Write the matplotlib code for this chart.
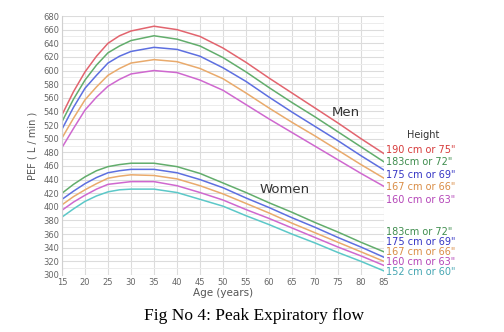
import matplotlib
matplotlib.use("Agg")
import matplotlib.pyplot as plt
import numpy as np

# ages (extra points on the curved part)
ages = [15, 17.5, 20, 22.5, 25, 27.5, 30, 35, 40, 45, 50, 55, 60, 65, 70, 75, 80, 85]

# Men, PEF (L/min)
men_190 = [535, 569, 598, 621, 640, 651, 658, 665, 660, 650, 633, 612, 589, 567, 545, 523, 500, 478]
men_183 = [525, 558, 586, 608, 626, 636, 644, 651, 646, 636, 619, 598, 575, 553, 532, 510, 488, 466]
men_175 = [514, 546, 574, 593, 611, 621, 628, 634, 631, 621, 604, 584, 561, 539, 518, 497, 475, 454]
men_167 = [501, 530, 557, 576, 593, 603, 611, 616, 613, 603, 588, 567, 545, 524, 504, 483, 462, 442]
men_160 = [487, 515, 542, 561, 577, 587, 595, 600, 597, 586, 571, 550, 529, 509, 489, 469, 449, 430]

# Women, PEF (L/min)
women_183 = [420, 433, 444, 453, 459, 462, 464, 464, 459, 449, 435, 421, 406, 392, 377, 363, 348, 334]
women_175 = [411, 423, 434, 443, 450, 453, 455, 455, 450, 440, 428, 413, 399, 384, 370, 355, 341, 326]
women_167 = [403, 415, 425, 434, 442, 445, 447, 446, 441, 431, 419, 405, 391, 376, 362, 348, 334, 320]
women_160 = [395, 407, 417, 426, 433, 435, 437, 437, 431, 421, 410, 396, 383, 369, 355, 341, 328, 314]
women_152 = [385, 397, 408, 416, 422, 425, 426, 426, 421, 411, 401, 387, 374, 360, 347, 333, 320, 306]

men_labels = ['190 cm or 75"', '183cm or 72"', '175 cm or 69"', '167 cm or 66"', '160 cm or 63"']
women_labels = ['183cm or 72"', '175 cm or 69"', '167 cm or 66"', '160 cm or 63"', '152 cm or 60"']

line_cols = {'red': '#e2646e', 'green': '#62ad6c', 'blue': '#5d6fe0',
             'orange': '#e9aa6c', 'magenta': '#cf68cf', 'cyan': '#5cc8c8'}
text_cols = {'red': '#d63a3a', 'green': '#3f8d4e', 'blue': '#3535c4',
             'orange': '#d98c45', 'magenta': '#b445b8', 'cyan': '#45a6b2'}

men = [men_190, men_183, men_175, men_167, men_160]
women = [women_183, women_175, women_167, women_160, women_152]
men_c = ['red', 'green', 'blue', 'orange', 'magenta']
women_c = ['green', 'blue', 'orange', 'magenta', 'cyan']

fig = plt.figure(figsize=(5.04, 3.32), dpi=100)
ax = fig.add_axes([62 / 504, 1 - 275 / 332, 322 / 504, 259 / 332])

for vals, c in zip(men, men_c):
    ax.plot(ages, vals, color=line_cols[c], lw=1.1)
for vals, c in zip(women, women_c):
    ax.plot(ages, vals, color=line_cols[c], lw=1.1)

ax.set_xlim(15, 85)
ax.set_ylim(300, 680)
ax.set_xticks(np.arange(15, 86, 5))
ax.set_yticks(np.arange(300, 681, 20))
ax.set_yticks(np.arange(310, 680, 20), minor=True)
ax.grid(which='major', color='#dcdcdc', lw=0.8)
ax.grid(which='minor', axis='y', color='#ececec', lw=0.7)
ax.tick_params(which='both', length=0, labelsize=6, labelcolor='#666666', pad=2)
for s in ax.spines.values():
    s.set_visible(False)
ax.spines['left'].set_visible(True)
ax.spines['left'].set_color('#d0d0d0')

ax.set_ylabel('PEF ( L / min )', fontsize=7, color='#555555', labelpad=4)
ax.set_xlabel('Age (years)', fontsize=7.5, color='#555555', labelpad=1)

ax.text(76.7, 538, 'Men', fontsize=9.5, color='#333333', ha='center', va='center')
ax.text(63.5, 425, 'Women', fontsize=9.5, color='#333333', ha='center', va='center')

# right-hand labels, in figure pixels
def px(x, y):
    return x / 504, 1 - y / 332

fig.text(*px(423, 135), 'Height', fontsize=7, color='#333333', ha='center', va='center')
for lab, c, y in zip(men_labels, men_c, [150, 162, 175, 187, 200]):
    fig.text(*px(386, y), lab, fontsize=7, color=text_cols[c], ha='left', va='center')
for lab, c, y in zip(women_labels, women_c, [232, 242, 252, 262, 272]):
    fig.text(*px(386, y), lab, fontsize=7, color=text_cols[c], ha='left', va='center')

fig.text(*px(254, 316), 'Fig No 4: Peak Expiratory flow', fontsize=12.5,
         family='Liberation Serif', color='black', ha='center', va='center')

fig.savefig('out.png', dpi=100, facecolor='white')
